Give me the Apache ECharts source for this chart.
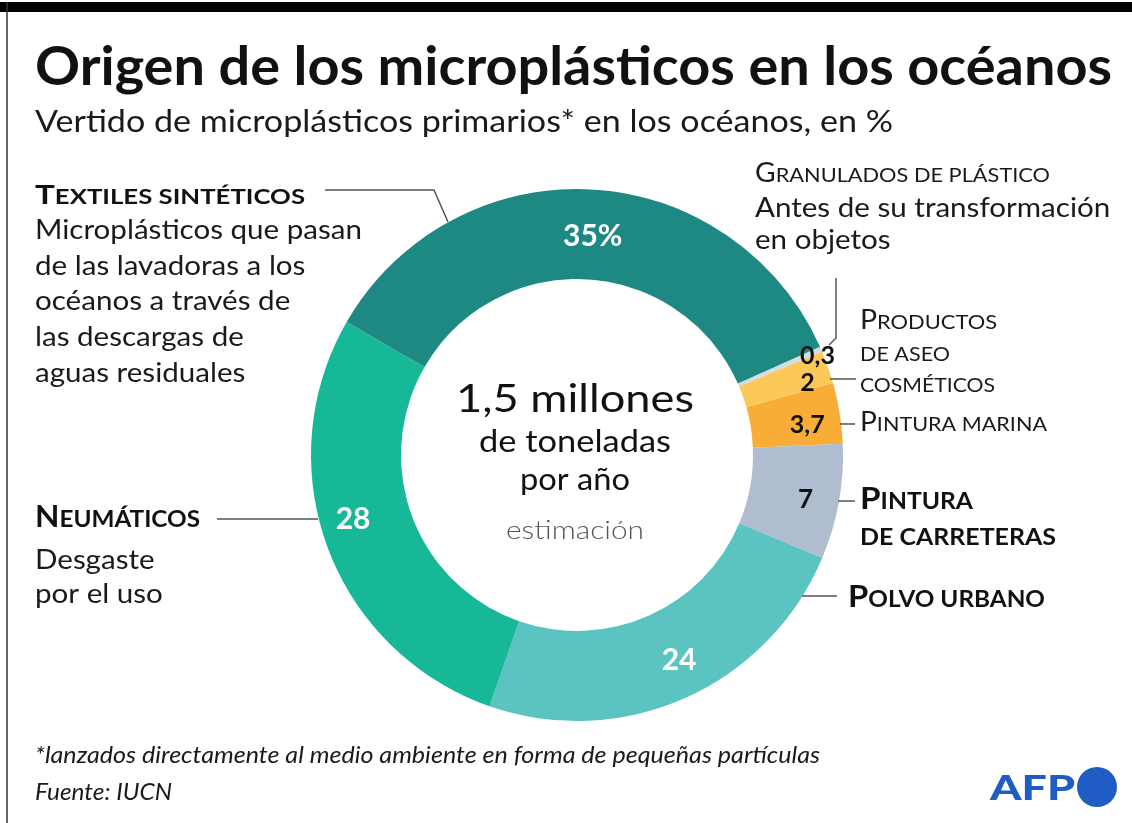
<!DOCTYPE html>
<html><head><meta charset="utf-8">
<script src="https://cdn.jsdelivr.net/npm/echarts@6/dist/echarts.min.js"></script>
<style>html,body{margin:0;padding:0;background:#fff}#c{width:1132px;height:823px}</style>
</head><body><div id="c"></div>
<script>
// ---- data ----
const categories = ['Granulados de plástico', 'Productos de aseo / cosméticos', 'Pintura marina', 'Pintura de carreteras', 'Polvo urbano', 'Neumáticos', 'Textiles sintéticos'];
const values = [0.3, 2, 3.7, 7, 24, 28, 35];
const valueLabels = ['0,3', '2', '3,7', '7', '24', '28', '35%'];
const centerLines = ['1,5 millones', 'de toneladas', 'por año', 'estimación'];

// ---- styles ----
const colors = ['#d6dce4', '#fcc85a', '#f7ad36', '#b0bccf', '#5bc4c0', '#17b898', '#1e8983'];
const labelColors = ['#111', '#111', '#111', '#111', '#fff', '#fff', '#fff'];
const labelSizes = [25, 25, 25, 26, 30, 30, 30];
const labelShift = [[35, -10], [19, 2], [9, 5], [8, 5], [11, 1], [-14, -14], [4, 5]];
const FONT = 'Lato, "Noto Sans", sans-serif';

const cv = document.createElement('canvas').getContext('2d');
function meas(font, text) {
  cv.font = font; cv.textBaseline = 'middle';
  return { w: cv.measureText(text).width, off: cv.measureText('H').actualBoundingBoxDescent };
}
function fontStr(size, weight, italic) { return (italic ? 'italic ' : '') + (weight || 'normal') + ' ' + size + 'px ' + FONT; }
function T(text, x, b, size, opt) {
  opt = opt || {};
  const font = fontStr(size, opt.weight, opt.italic);
  const m = meas(font, text);
  const sx = opt.width ? opt.width / m.w : 1;
  return { type: 'text', x: x, y: b - m.off, scaleX: sx, z: 10,
    style: { text: text, font: font, fill: opt.color || '#111', textAlign: opt.align || 'left', align: opt.align || 'left', textVerticalAlign: 'middle', verticalAlign: 'middle' } };
}
// small caps: parts = [[text,size],...]
function SC(parts, x, b, opt) {
  opt = opt || {};
  const ms = parts.map(p => meas(fontStr(p[1], opt.weight), p[0]));
  const total = ms.reduce((a, m) => a + m.w, 0);
  const sx = opt.width ? opt.width / total : 1;
  let cx = x; const out = [];
  parts.forEach((p, i) => {
    const font = fontStr(p[1], opt.weight);
    out.push({ type: 'text', x: cx, y: b - ms[i].off, scaleX: sx, z: 10,
      style: { text: p[0], font: font, fill: opt.color || '#111', textAlign: 'left', align: 'left', textVerticalAlign: 'middle', verticalAlign: 'middle' } });
    cx += ms[i].w * sx;
  });
  return out;
}
function line(points) {
  return { type: 'polyline', z: 5, shape: { points: points }, style: { stroke: '#555', lineWidth: 1.5, fill: null } };
}

const g = [];
// frame
g.push({ type: 'rect', shape: { x: 0, y: 2, width: 1132, height: 10 }, style: { fill: '#000' } });
g.push({ type: 'line', shape: { x1: 7, y1: 2, x2: 7, y2: 823 }, style: { stroke: '#333', lineWidth: 1.5 } });
// title / subtitle
g.push(T('Origen de los microplásticos en los océanos', 35, 85, 54, { weight: 'bold', width: 1077 }));
g.push(T('Vertido de microplásticos primarios* en los océanos, en %', 35, 132, 30, { width: 858, color: '#1a1a1a' }));
// left annotations
g.push(...SC([['T', 27], ['EXTILES SINTÉTICOS', 21]], 35, 204, { weight: 'bold', width: 270 }));
const desc1 = ['Microplásticos que pasan', 'de las lavadoras a los', 'océanos a través de', 'las descargas de', 'aguas residuales'];
const d1m = meas(fontStr(27), desc1[0]);
const d1sx = 327 / d1m.w;
desc1.forEach((t, i) => { const e = T(t, 35, 239 + i * 35.7, 27, { color: '#1a1a1a' }); e.scaleX = d1sx; g.push(e); });
g.push(line([[325, 190], [434, 190], [448, 222]]));

g.push(...SC([['N', 30], ['EUMÁTICOS', 23]], 35, 527, { weight: 'bold', width: 165 }));
const d2 = ['Desgaste', 'por el uso'];
d2.forEach((t, i) => { const e = T(t, 35, 569 + i * 34, 27, { color: '#1a1a1a' }); e.scaleX = d1sx; g.push(e); });
g.push(line([[217, 519], [318, 519]]));

// right annotations
g.push(...SC([['G', 26], ['RANULADOS DE PLÁSTICO', 20]], 755, 182, { width: 295, color: '#1a1a1a' }));
['Antes de su transformación', 'en objetos'].forEach((t, i) => { const e = T(t, 755, 217 + i * 32, 27, { color: '#1a1a1a' }); e.scaleX = d1sx; g.push(e); });
g.push(line([[836, 278], [836, 338], [829, 345]]));

g.push(...SC([['P', 26], ['RODUCTOS', 20]], 860, 329, { width: 137, color: '#1a1a1a' }));
g.push(...SC([['DE ASEO', 20]], 860, 361, { width: 90, color: '#1a1a1a' }));
g.push(...SC([['COSMÉTICOS', 20]], 860, 392, { width: 135, color: '#1a1a1a' }));
g.push(line([[830, 379], [856, 379]]));

g.push(...SC([['P', 26], ['INTURA MARINA', 20]], 860, 431, { width: 187, color: '#1a1a1a' }));
g.push(line([[840, 424], [855, 424]]));

g.push(...SC([['P', 31], ['INTURA', 23]], 860, 509, { weight: 'bold', width: 113 }));
g.push(...SC([['DE CARRETERAS', 23]], 860, 545, { weight: 'bold', width: 196 }));
g.push(line([[838, 501], [855, 501]]));

g.push(...SC([['P', 31], ['OLVO URBANO', 23]], 848, 607, { weight: 'bold', width: 197 }));
g.push(line([[802, 596], [837, 596]]));

// center text
g.push(T(centerLines[0], 575, 412, 39, { align: 'center', width: 238, color: '#111' }));
g.push(T(centerLines[1], 575, 452, 31, { align: 'center', width: 192, color: '#111' }));
g.push(T(centerLines[2], 575, 490, 31, { align: 'center', width: 110, color: '#111' }));
g.push(T(centerLines[3], 575, 539, 26, { align: 'center', width: 138, color: '#555', weight: 300 }));

// footer
g.push(T('*lanzados directamente al medio ambiente en forma de pequeñas partículas', 35, 763, 24, { italic: true, width: 785, color: '#1a1a1a' }));
g.push(T('Fuente: IUCN', 35, 800, 24, { italic: true, width: 137, color: '#1a1a1a' }));
// AFP logo
g.push(T('AFP', 990, 800, 35, { weight: 900, width: 85, color: '#1f5cc4' }));
g.push({ type: 'circle', shape: { cx: 1097, cy: 787, r: 20 }, style: { fill: '#1f5cc4' } });

const chart = echarts.init(document.getElementById('c'), null, { renderer: 'canvas' });
chart.setOption({
  backgroundColor: '#fff',
  animation: false,
  graphic: { elements: g },
  series: [{
    type: 'pie',
    center: [577, 455],
    radius: [176, 266],
    startAngle: 24,
    clockwise: true,
    avoidLabelOverlap: false,
    silent: true,
    itemStyle: { borderWidth: 0 },
    label: {
      show: true, position: 'inside', fontFamily: FONT, fontWeight: 'bold',
      formatter: p => valueLabels[p.dataIndex]
    },
    labelLine: { show: false },
    labelLayout: p => ({ dx: labelShift[p.dataIndex][0], dy: labelShift[p.dataIndex][1] }),
    data: values.map((v, i) => ({
      name: categories[i], value: v,
      itemStyle: { color: colors[i] },
      label: { color: labelColors[i], fontSize: labelSizes[i] }
    }))
  }]
});
</script></body></html>
